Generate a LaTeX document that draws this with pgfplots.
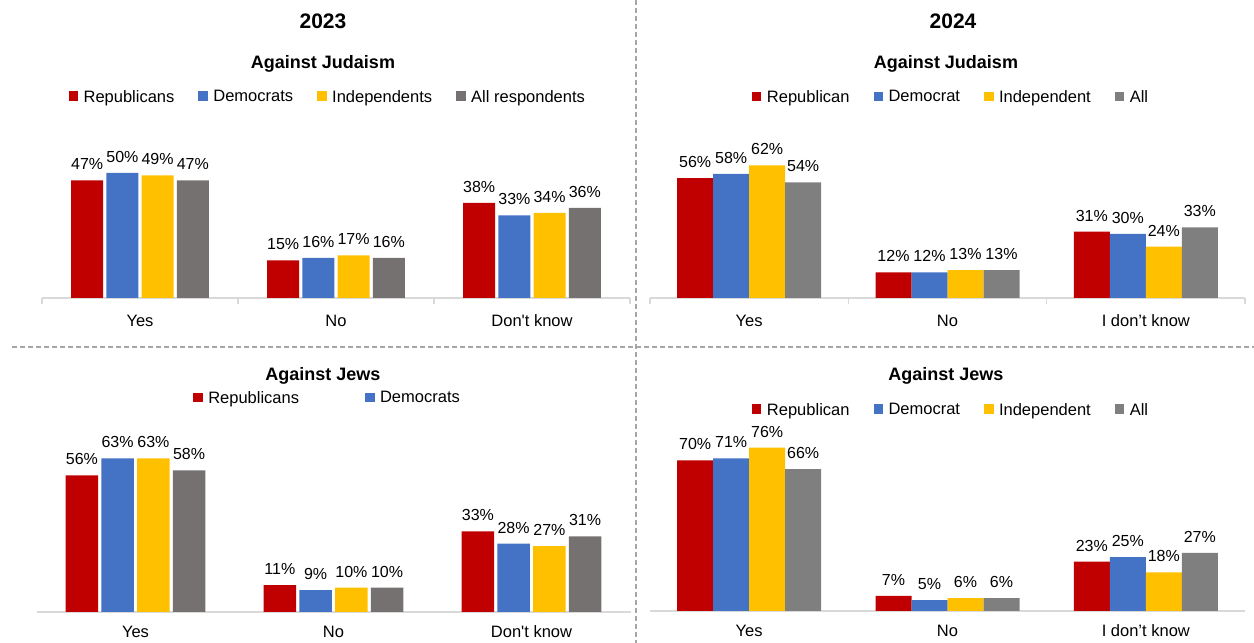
\documentclass[border=0pt]{standalone}
\usepackage{pgfplots}
\pgfplotsset{compat=1.18}
\usepackage{fontspec}
\setmainfont{Liberation Sans}
\definecolor{cR}{HTML}{C00000}
\definecolor{cB}{HTML}{4472C4}
\definecolor{cY}{HTML}{FFC000}
\definecolor{cG}{HTML}{767171}
\definecolor{cG2}{HTML}{7F7F7F}
\definecolor{axl}{HTML}{D9D9D9}
\definecolor{sep}{HTML}{A6A6A6}

\pgfplotsset{
  panel/.style={
    scale only axis, anchor=south west,
    ybar, ymin=0, ymax=100,
    xmin=-0.5, xmax=2.5,
    hide y axis,
    axis x line*=bottom,
    axis line style={axl, line width=1.2pt},
    xtick={0,1,2},
    major tick length=0pt,
    xticklabel style={font=\fontsize{16.5}{19}\selectfont, anchor=base, inner sep=0pt},
    clip=false,
    /pgf/number format/assume math mode=true,
    nodes near coords={\pgfmathprintnumber{\pgfplotspointmeta}\%},
    every node near coord/.append style={text=black, font=\fontsize{16}{18}\selectfont, anchor=base, yshift=10.5pt, inner sep=0pt},
    legend columns=4,
    legend style={draw=none, fill=none, font=\fontsize{16.5}{19}\selectfont, anchor=center, inner sep=0pt,
      nodes={inner sep=2pt},
      /tikz/every even column/.append style={column sep=22pt}},
    legend cell align=left,
    legend image code/.code={\fill[##1] (0pt,-4pt) rectangle (9.5pt,5.5pt); \path (13pt,0pt);},
  },
  ticked/.style={extra x ticks={-0.5,0.5,1.5,2.5}, extra x tick labels={},
    extra x tick style={major tick length=6pt, tick align=outside, tick style={axl, line width=1.2pt}}},
}

\begin{document}
\begin{tikzpicture}[x=1pt,y=1pt]
\path[use as bounding box] (0,0) rectangle (1254,643);
\draw[sep, line width=1.3pt, dash pattern=on 5pt off 3pt] (636,643) -- (636,0);
\draw[sep, line width=1.3pt, dash pattern=on 5pt off 3pt] (12,296) -- (1254,296);

\node[font=\bfseries\fontsize{21}{25}\selectfont, anchor=base] at (323,614.7) {2023};
\node[font=\bfseries\fontsize{21}{25}\selectfont, anchor=base] at (953,614.7) {2024};
\node[font=\bfseries\fontsize{18}{22}\selectfont, anchor=base] at (323,574.7) {Against Judaism};
\node[font=\bfseries\fontsize{18}{22}\selectfont, anchor=base] at (946,574.7) {Against Judaism};
\node[font=\bfseries\fontsize{18}{22}\selectfont, anchor=base] at (323,262.3) {Against Jews};
\node[font=\bfseries\fontsize{18}{22}\selectfont, anchor=base] at (946,262.3) {Against Jews};

% 2023 Against Judaism
\begin{axis}[panel, ticked, at={(42pt,345pt)}, width=588pt, height=250pt, bar width=32pt,
  xticklabels={Yes,No,Don\textquotesingle t know},
  xticklabel style={yshift=-29pt},
  legend style={at={(0.486,0.804)}}]
\addplot[fill=cR, draw=none, bar shift=-52.8pt] coordinates {(0,47) (1,15) (2,38)};
\addplot[fill=cB, draw=none, bar shift=-17.6pt] coordinates {(0,50) (1,16) (2,33)};
\addplot[fill=cY, draw=none, bar shift=17.6pt] coordinates {(0,49) (1,17) (2,34)};
\addplot[fill=cG, draw=none, bar shift=52.8pt] coordinates {(0,47) (1,16) (2,36)};
\legend{Republicans, Democrats, Independents, All respondents}
\end{axis}

% 2024 Against Judaism
\begin{axis}[panel, ticked, at={(650pt,345pt)}, width=595pt, height=214pt, bar width=36pt,
  xticklabels={Yes,No,I don’t know},
  xticklabel style={yshift=-29pt},
  legend style={at={(0.506,0.939)}}]
\addplot[fill=cR, draw=none, bar shift=-54pt] coordinates {(0,56) (1,12) (2,31)};
\addplot[fill=cB, draw=none, bar shift=-18pt] coordinates {(0,58) (1,12) (2,30)};
\addplot[fill=cY, draw=none, bar shift=18pt] coordinates {(0,62) (1,13) (2,24)};
\addplot[fill=cG2, draw=none, bar shift=54pt] coordinates {(0,54) (1,13) (2,33)};
\legend{Republican, Democrat, Independent, All}
\end{axis}

% 2023 Against Jews
\begin{axis}[panel, at={(36.5pt,31pt)}, width=594pt, height=244pt, bar width=32.5pt,
  xticklabels={Yes,No,Don\textquotesingle t know},
  xticklabel style={yshift=-26pt},
  legend style={at={(0.49,0.877)}, /tikz/every even column/.append style={column sep=64pt}}]
\addplot[fill=cR, draw=none, bar shift=-53.6pt] coordinates {(0,56) (1,11) (2,33)};
\addplot[fill=cB, draw=none, bar shift=-17.9pt] coordinates {(0,63) (1,9) (2,28)};
\addplot[fill=cY, draw=none, bar shift=17.9pt] coordinates {(0,63) (1,10) (2,27)};
\addplot[fill=cG, draw=none, bar shift=53.6pt] coordinates {(0,58) (1,10) (2,31)};
\legend{Republicans, Democrats}
\end{axis}

% 2024 Against Jews
\begin{axis}[panel, at={(650pt,32pt)}, width=595pt, height=215pt, bar width=36pt,
  xticklabels={Yes,No,I don’t know},
  xticklabel style={yshift=-26pt},
  legend style={at={(0.506,0.935)}}]
\addplot[fill=cR, draw=none, bar shift=-54pt] coordinates {(0,70) (1,7) (2,23)};
\addplot[fill=cB, draw=none, bar shift=-18pt] coordinates {(0,71) (1,5) (2,25)};
\addplot[fill=cY, draw=none, bar shift=18pt] coordinates {(0,76) (1,6) (2,18)};
\addplot[fill=cG2, draw=none, bar shift=54pt] coordinates {(0,66) (1,6) (2,27)};
\legend{Republican, Democrat, Independent, All}
\end{axis}
\end{tikzpicture}
\end{document}
